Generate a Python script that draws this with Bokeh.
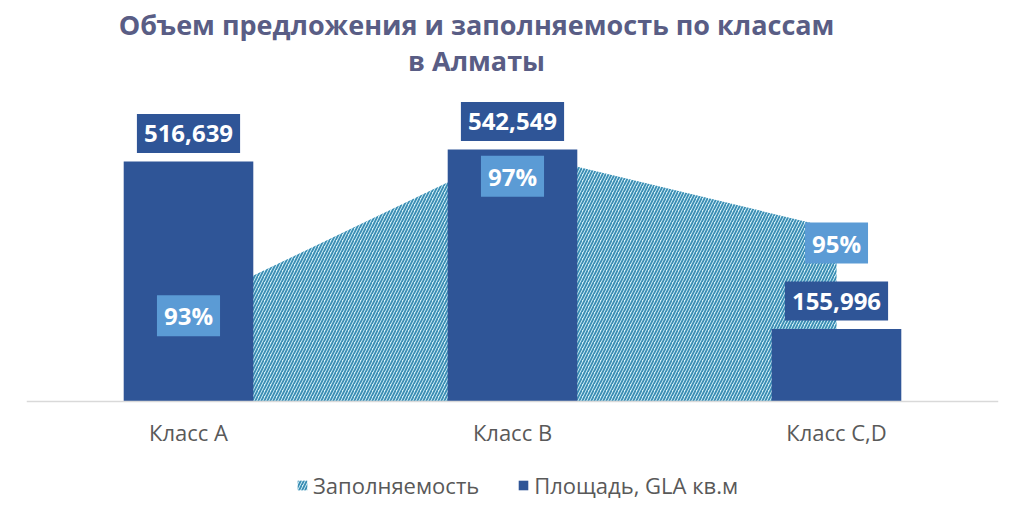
from bokeh.plotting import figure
from bokeh.models import (ColumnDataSource, FactorRange, Range1d, Label, LabelSet,
                          Legend, LegendItem, Span)
from bokeh.core.properties import value
from bokeh.embed import file_html
from bokeh.resources import INLINE

# data
classes = ["Класс А", "Класс В", "Класс С,D"]
area_gla = [516639, 542549, 155996]      # Площадь, GLA кв.м
occupancy = [93, 97, 95]                 # Заполняемость, %

title_lines = ["Объем предложения и заполняемость по классам", "в Алматы"]

bar_color = "#2f5597"
pct_color = "#5b9bd5"
hatch_color = "#3a8db3"
hatch_bg = "#d6f1f8"
text_gray = "#595959"
title_color = "#595d85"
font = "Open Sans"

# scale of both value axes (units per pixel) and where the baseline sits
gla_per_px = 2153
pct_per_px = 0.02574
pct_base = 90.56
below_px, above_px = 122, 401

pct_label_dy = [-9, -25, -14]   # excel placed the % labels a bit below the points

src = ColumnDataSource(dict(
    cls=classes,
    gla=area_gla,
    occ=occupancy,
    base=[pct_base] * len(classes),
    zero=[0] * len(classes),
))

p = figure(width=1024, height=523,
           x_range=FactorRange(factors=classes, range_padding=0),
           y_range=Range1d(-below_px * gla_per_px, above_px * gla_per_px),
           x_axis_location=None, y_axis_location=None,
           output_backend="svg", toolbar_location=None,
           min_border_left=26, min_border_right=26,
           min_border_top=0, min_border_bottom=0,
           outline_line_color=None, background_fill_color="white")
p.extra_y_ranges = {"pct": Range1d(pct_base - below_px * pct_per_px,
                                   pct_base + above_px * pct_per_px)}

p.xgrid.grid_line_color = None
p.ygrid.grid_line_color = None

area = p.varea(x="cls", y1="base", y2="occ", source=src, y_range_name="pct",
               fill_color=hatch_bg, hatch_pattern="/", hatch_color=hatch_color,
               hatch_scale=6, hatch_weight=1.8)

bars = p.vbar(x="cls", top="gla", width=0.4, source=src,
              fill_color=bar_color, line_color=None)

p.add_layout(Span(location=0, dimension="width", line_color="#d9d9d9",
                  line_width=1.5))

# category labels under the baseline
p.add_layout(LabelSet(x="cls", y="zero", text="cls", source=src, y_offset=-30,
                      text_align="center", text_baseline="middle",
                      text_font=value(font), text_font_size="22px",
                      text_color=text_gray))

for i, (v, o) in enumerate(zip(area_gla, occupancy)):
    p.add_layout(Label(x=i + 0.5, y=v, text=f"{v:,}", y_offset=28,
                       text_align="center", text_baseline="middle",
                       text_color="white", text_font=font,
                       text_font_size="24px", text_font_style="bold",
                       background_fill_color=bar_color, padding=(7, 11)))
    p.add_layout(Label(x=i + 0.5, y=o, y_range_name="pct", text=f"{o}%",
                       y_offset=pct_label_dy[i],
                       text_align="center", text_baseline="middle",
                       text_color="white", text_font=font,
                       text_font_size="24px", text_font_style="bold",
                       background_fill_color=pct_color, padding=(7, 4)))

# title, centred a little left of the plot centre like the original
p.add_layout(Label(x=1.389, y=(above_px - 24) * gla_per_px, text=title_lines[0],
                   text_align="center", text_baseline="middle",
                   text_color=title_color, text_font=font,
                   text_font_size="27px", text_font_style="bold"))
p.add_layout(Label(x=1.389, y=(above_px - 60) * gla_per_px, text=title_lines[1],
                   text_align="center", text_baseline="middle",
                   text_color=title_color, text_font=font,
                   text_font_size="27px", text_font_style="bold"))

legend = Legend(items=[LegendItem(label="Заполняемость", renderers=[area]),
                       LegendItem(label="Площадь, GLA кв.м", renderers=[bars])],
                orientation="horizontal", location=(270, 23),
                glyph_width=12, glyph_height=12, label_standoff=5, spacing=38,
                label_text_font=font, label_text_font_size="22px",
                label_text_color=text_gray, border_line_color=None,
                background_fill_alpha=0, margin=0, padding=0)
p.add_layout(legend)

open("out.html", "w").write(file_html(p, INLINE))
